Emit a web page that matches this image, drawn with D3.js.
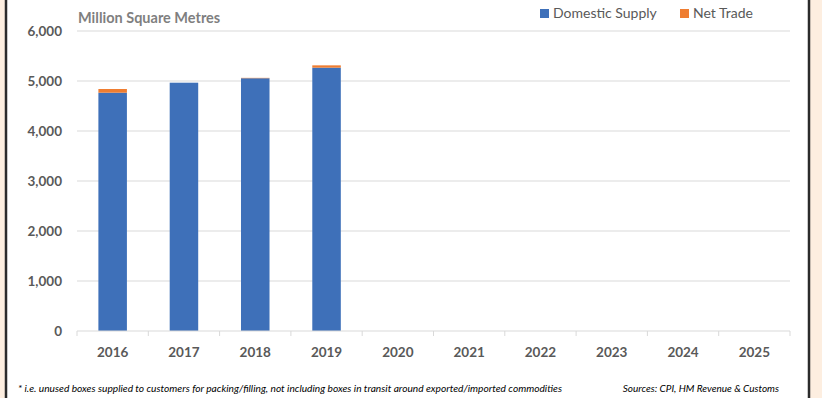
<!DOCTYPE html>
<html>
<head>
<meta charset="utf-8">
<script src="https://cdn.jsdelivr.net/npm/d3@7"></script>
<style>
  body { margin: 0; background: #fdeee0; }
  svg { display: block; }
  text { font-family: Lato, "Open Sans", sans-serif; }
</style>
</head>
<body>
<svg id="chart" width="822" height="398"></svg>
<script>
// chart data
const years = ['2016', '2017', '2018', '2019', '2020', '2021', '2022', '2023', '2024', '2025'];
const domesticSupply = [4766, 4966, 5055, 5267, 0, 0, 0, 0, 0, 0];
const netTrade = [74, 0, 8, 46, 0, 0, 0, 0, 0, 0];
const yTicks = [0, 1000, 2000, 3000, 4000, 5000, 6000];

const seriesNames = ['Domestic Supply', 'Net Trade'];
const colors = ['#3e70b9', '#ef7d31'];

function drawChart() {
    const svg = d3.select('#chart');

    // white panel with dark borders
    svg.append('rect').attr('x', 7).attr('y', 0).attr('width', 802).attr('height', 398).attr('fill', '#fff');
    svg.append('line').attr('x1', 6).attr('x2', 6).attr('y1', 0).attr('y2', 398)
        .attr('stroke', '#2b2b2b').attr('stroke-width', 2.5);
    svg.append('line').attr('x1', 809).attr('x2', 809).attr('y1', 0).attr('y2', 398)
        .attr('stroke', '#2b2b2b').attr('stroke-width', 2.5);

    const left = 77, right = 790, top = 31, bottom = 331;

    const x = d3.scaleBand().domain(years).range([left, right]).paddingInner(0.6).paddingOuter(0.3);
    const xOuter = d3.scaleBand().domain(years).range([left, right]);
    const y = d3.scaleLinear().domain([0, 6000]).range([bottom, top]);

    // gridlines
    svg.append('g')
        .selectAll('line')
        .data(yTicks.filter(t => t > 0))
        .join('line')
        .attr('x1', left).attr('x2', right)
        .attr('y1', d => y(d)).attr('y2', d => y(d))
        .attr('stroke', '#d9d9d9').attr('stroke-width', 1);

    // y labels
    svg.append('g')
        .selectAll('text')
        .data(yTicks)
        .join('text')
        .attr('x', 62)
        .attr('y', d => y(d) + 5)
        .attr('text-anchor', 'end')
        .attr('font-size', 13.5)
        .attr('font-weight', 'bold')
        .attr('fill', '#595959')
        .text(d => d3.format(',')(d));

    // stacked bars
    const rows = years.map((yr, i) => ({ year: yr, 'Domestic Supply': domesticSupply[i], 'Net Trade': netTrade[i] }));
    const stacked = d3.stack().keys(seriesNames)(rows);

    svg.append('g')
        .selectAll('g')
        .data(stacked)
        .join('g')
        .attr('fill', (d, i) => colors[i])
        .selectAll('rect')
        .data(d => d)
        .join('rect')
        .attr('x', d => x(d.data.year))
        .attr('y', d => y(d[1]))
        .attr('width', x.bandwidth())
        .attr('height', d => y(d[0]) - y(d[1]));

    // x axis
    const xAxis = svg.append('g').attr('transform', `translate(0,${bottom})`);
    xAxis.append('line').attr('x1', left).attr('x2', right)
        .attr('stroke', '#d9d9d9').attr('stroke-width', 1);
    xAxis.selectAll('.tick')
        .data(years.map(yr => xOuter(yr)).concat([right]))
        .join('line')
        .attr('class', 'tick')
        .attr('x1', d => d).attr('x2', d => d)
        .attr('y1', 0).attr('y2', 5)
        .attr('stroke', '#d9d9d9');
    xAxis.selectAll('text')
        .data(years)
        .join('text')
        .attr('x', d => xOuter(d) + xOuter.bandwidth() / 2)
        .attr('y', 26)
        .attr('text-anchor', 'middle')
        .attr('font-size', 13.5)
        .attr('font-weight', 'bold')
        .attr('fill', '#595959')
        .text(d => d);

    // axis title
    svg.append('text')
        .attr('x', 78).attr('y', 23)
        .attr('font-size', 14.5)
        .attr('font-weight', 'bold')
        .attr('fill', '#7f7f7f')
        .text('Million Square Metres');

    // legend
    const legendX = [540, 680];
    const legend = svg.append('g')
        .selectAll('g')
        .data(seriesNames)
        .join('g')
        .attr('transform', (d, i) => `translate(${legendX[i]},7)`);
    legend.append('rect').attr('width', 9).attr('height', 9).attr('y', 2).attr('fill', (d, i) => colors[i]);
    legend.append('text')
        .attr('x', 13).attr('y', 11)
        .attr('font-size', 14)
        .attr('fill', '#595959')
        .text(d => d);

    // footnotes
    svg.append('text')
        .attr('x', 18).attr('y', 392)
        .attr('font-size', 10)
        .attr('font-style', 'italic')
        .attr('fill', '#000')
        .attr('textLength', 544)
        .attr('lengthAdjust', 'spacingAndGlyphs')
        .text('* i.e. unused boxes supplied to customers for packing/filling, not including boxes in transit around exported/imported commodities');
    svg.append('text')
        .attr('x', 779).attr('y', 392)
        .attr('text-anchor', 'end')
        .attr('font-size', 10)
        .attr('font-style', 'italic')
        .attr('fill', '#000')
        .text('Sources: CPI, HM Revenue & Customs');
}

drawChart();
</script>
</body>
</html>
